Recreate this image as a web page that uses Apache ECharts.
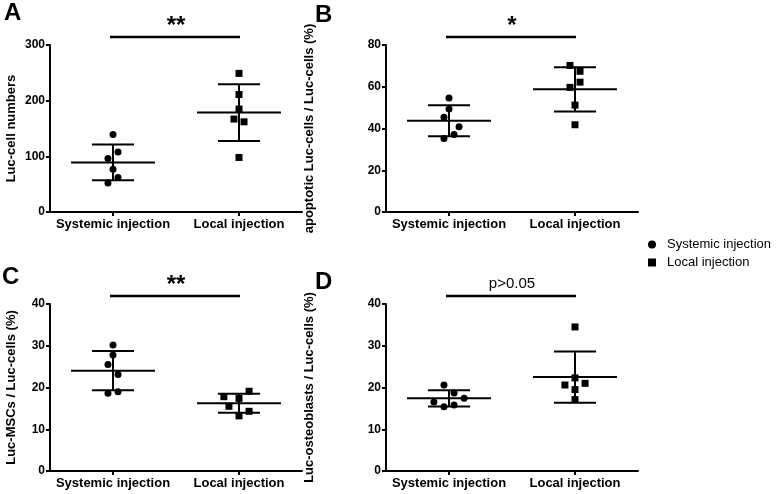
<!DOCTYPE html>
<html>
<head>
<meta charset="utf-8">
<script src="https://cdn.jsdelivr.net/npm/echarts@6/dist/echarts.min.js"></script>
<style>
html,body{margin:0;padding:0;background:#fff;}
#chart{width:778px;height:494px;}
</style>
</head>
<body>
<div id="chart"></div>
<script>
// ---- data ----
const categories = ['Systemic injection', 'Local injection'];

const aSystemic = [139, 108, 96, 77, 62, 52];
const aLocal = [249, 211, 185, 167, 162, 98];
const bSystemic = [54.6, 49.3, 45.4, 40.8, 37.1, 35.2];
const bLocal = [70.2, 67.4, 62.2, 59.7, 51.2, 41.8];
const cSystemic = [30.2, 27.8, 25.5, 23.1, 19.0, 18.6];
const cLocal = [19.1, 17.8, 17.4, 15.5, 14.3, 13.2];
const dSystemic = [20.6, 18.7, 17.4, 16.5, 15.8, 15.4];
const dLocal = [34.5, 22.3, 20.6, 21.0, 19.5, 17.1];

// scatter column slots (GraphPad-style point spreading)
const aSystemicSlot = [0, 1, -1, 0, 1, -1];
const aLocalSlot = [0, 0, 0, -1, 1, 0];
const bSystemicSlot = [0, 0, -1, 2, 1, -1];
const bLocalSlot = [-1, 1, 1, -1, 0, 0];
const cSystemicSlot = [0, 0, -1, 1, 1, -1];
const cLocalSlot = [2, -3, 0, -2, 2, 0];
const dSystemicSlot = [-1, 1, 3, -3, 1, -1];
const dLocalSlot = [0, 0, -2, 2, 0, 0];

const yAxisNames = [
  'Luc-cell numbers',
  'apoptotic Luc-cells / Luc-cells (%)',
  'Luc-MSCs / Luc-cells (%)',
  'Luc-osteoblasts / Luc-cells (%)'
];
const yMax = [300, 80, 40, 40];
const yInterval = [100, 20, 10, 10];
const panelLetters = ['A', 'B', 'C', 'D'];
const sigLabels = ['**', '*', '**', 'p>0.05'];

// ---- helpers ----
const FONT = '"Liberation Sans", Arial, Helvetica, sans-serif';
const SLOT = 0.04;

function mean(a) { return a.reduce((s, v) => s + v, 0) / a.length; }
function sd(a) {
  const m = mean(a);
  return Math.sqrt(a.reduce((s, v) => s + (v - m) * (v - m), 0) / (a.length - 1));
}

const panels = [
  { sys: aSystemic, loc: aLocal, sysSlot: aSystemicSlot, locSlot: aLocalSlot },
  { sys: bSystemic, loc: bLocal, sysSlot: bSystemicSlot, locSlot: bLocalSlot },
  { sys: cSystemic, loc: cLocal, sysSlot: cSystemicSlot, locSlot: cLocalSlot },
  { sys: dSystemic, loc: dLocal, sysSlot: dSystemicSlot, locSlot: dLocalSlot }
];

const grids = [
  { left: 50, top: 45, width: 252, height: 167 },
  { left: 386, top: 45, width: 252, height: 167 },
  { left: 50, top: 304, width: 252, height: 167 },
  { left: 386, top: 304, width: 252, height: 167 }
];
const nameGaps = [32, 70, 32, 70];

const xAxes = [], yAxes = [], series = [], graphics = [];

panels.forEach((p, i) => {
  xAxes.push({
    gridIndex: i, type: 'value', min: -0.5, max: 1.5,
    splitLine: { show: false },
    axisLine: { show: true, onZero: false, lineStyle: { color: '#000', width: 2 } },
    axisTick: { show: true, customValues: [0, 1], length: 4, lineStyle: { color: '#000', width: 2 } },
    axisLabel: {
      customValues: [0, 1], formatter: v => categories[Math.round(v)] || '',
      color: '#000', fontWeight: 'bold', fontSize: 13, fontFamily: FONT, margin: 6
    }
  });
  yAxes.push({
    gridIndex: i, type: 'value', min: 0, max: yMax[i], interval: yInterval[i],
    name: yAxisNames[i], nameLocation: 'middle', nameRotate: 90, nameGap: nameGaps[i],
    nameTextStyle: { color: '#000', fontWeight: 'bold', fontSize: 13, fontFamily: FONT },
    splitLine: { show: false },
    axisLine: { show: true, onZero: false, lineStyle: { color: '#000', width: 2 } },
    axisTick: { show: true, length: 4, lineStyle: { color: '#000', width: 2 } },
    axisLabel: { color: '#000', fontWeight: 'bold', fontSize: 12, fontFamily: FONT, margin: 5 }
  });

  series.push({
    name: 'Systemic injection', type: 'scatter', xAxisIndex: i, yAxisIndex: i,
    symbol: 'circle', symbolSize: 7, itemStyle: { color: '#000', opacity: 1 },
    data: p.sys.map((v, k) => [0 + p.sysSlot[k] * SLOT, v]), z: 3
  });
  series.push({
    name: 'Local injection', type: 'scatter', xAxisIndex: i, yAxisIndex: i,
    symbol: 'rect', symbolSize: 7, itemStyle: { color: '#000', opacity: 1 },
    data: p.loc.map((v, k) => [1 + p.locSlot[k] * SLOT, v]), z: 3
  });

  // mean ± SD
  series.push({
    type: 'custom', xAxisIndex: i, yAxisIndex: i, clip: false, silent: true, z: 4,
    data: [[0, mean(p.sys), sd(p.sys)], [1, mean(p.loc), sd(p.loc)]],
    renderItem: function (params, api) {
      const x = api.value(0), m = api.value(1), s = api.value(2);
      const l = api.coord([x - 0.333, m]), r = api.coord([x + 0.333, m]);
      const t = api.coord([x, m + s]), b = api.coord([x, m - s]);
      const cw = api.size([0.167, 0])[0];
      const st = { stroke: '#000', lineWidth: 2 };
      return {
        type: 'group', children: [
          { type: 'line', shape: { x1: l[0], y1: l[1], x2: r[0], y2: r[1] }, style: st },
          { type: 'line', shape: { x1: t[0], y1: t[1], x2: b[0], y2: b[1] }, style: st },
          { type: 'line', shape: { x1: t[0] - cw, y1: t[1], x2: t[0] + cw, y2: t[1] }, style: st },
          { type: 'line', shape: { x1: b[0] - cw, y1: b[1], x2: b[0] + cw, y2: b[1] }, style: st }
        ]
      };
    }
  });

  // significance bar
  const ymax = yMax[i];
  const label = sigLabels[i];
  series.push({
    type: 'custom', xAxisIndex: i, yAxisIndex: i, clip: false, silent: true, z: 4,
    data: [[0, 1]],
    renderItem: function (params, api) {
      const p0 = api.coord([0, ymax]), p1 = api.coord([1, ymax]);
      const y = p0[1] - 8;
      const star = label.indexOf('*') === 0;
      return {
        type: 'group', children: [
          { type: 'line', shape: { x1: p0[0] - 3, y1: y, x2: p1[0] + 1, y2: y }, style: { stroke: '#000', lineWidth: 2.5 } },
          {
            type: 'text', x: (p0[0] + p1[0]) / 2, y: star ? y + 1 : y - 5,
            style: {
              text: label, fill: '#000', align: 'center', verticalAlign: 'bottom',
              font: star ? 'bold 24px ' + FONT : 'normal 15px ' + FONT
            }
          }
        ]
      };
    }
  });
});

const letterPos = [[4, 1], [315, 3], [2, 265], [315, 270]];
letterPos.forEach((pos, i) => {
  graphics.push({
    type: 'text', left: pos[0], top: pos[1],
    style: { text: panelLetters[i], fill: '#000', font: 'bold 24px ' + FONT }
  });
});

const chart = echarts.init(document.getElementById('chart'), null, { renderer: 'canvas' });
chart.setOption({
  animation: false,
  backgroundColor: '#fff',
  grid: grids,
  xAxis: xAxes,
  yAxis: yAxes,
  series: series,
  graphic: graphics,
  legend: {
    orient: 'vertical', left: 643, top: 233,
    itemWidth: 8, itemHeight: 8, itemGap: 5,
    data: [
      { name: 'Systemic injection', icon: 'circle' },
      { name: 'Local injection', icon: 'rect' }
    ],
    textStyle: { color: '#000', fontSize: 13, fontFamily: FONT, padding: [0, 0, 0, 6] },
    selectedMode: false
  }
});
</script>
</body>
</html>
